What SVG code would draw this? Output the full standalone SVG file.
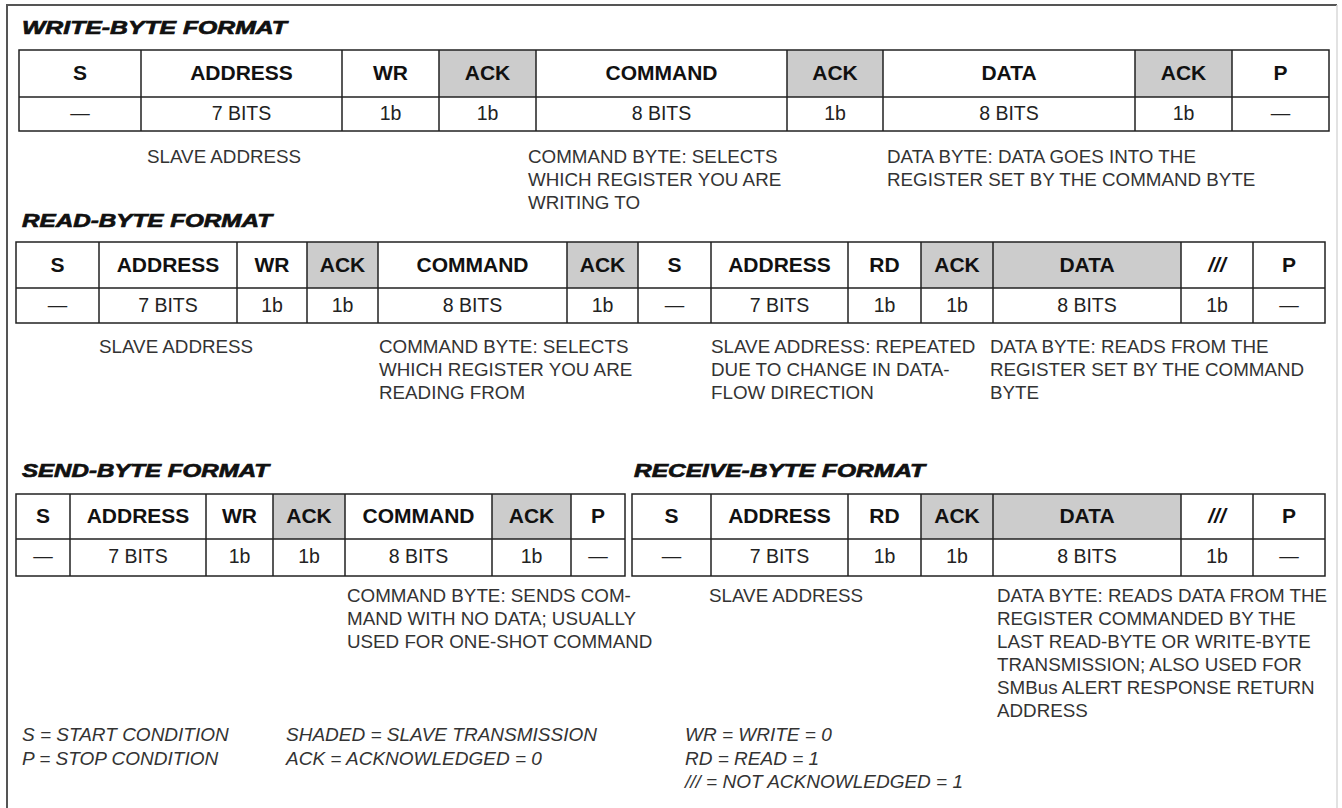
<svg xmlns="http://www.w3.org/2000/svg" width="1342" height="808" viewBox="0 0 1342 808">
<style>
text{font-family:"Liberation Sans",Arial,sans-serif;fill:#111}
.title{font-size:19px;font-weight:bold;font-style:italic;stroke:#111;stroke-width:0.7}
.hd{font-size:21px;font-weight:bold;text-anchor:middle}
.hdi{font-size:21px;font-weight:bold;font-style:italic;text-anchor:middle}
.dt{font-size:19.5px;text-anchor:middle;fill:#222}
.note{font-size:18.8px;fill:#333}
.leg{font-size:19px;font-style:italic;fill:#333}
.sh{fill:#cccccc}
.grid{fill:none;stroke:#222;stroke-width:1.5}
</style>
<rect x="0" y="0" width="1342" height="808" fill="#fff"/>
<g id="frame">
<line x1="7" y1="5" x2="1337" y2="5" stroke="#555" stroke-width="2"/>
<line x1="7" y1="4" x2="7" y2="808" stroke="#555" stroke-width="2"/>
<line x1="1337" y1="5" x2="1337" y2="808" stroke="#d8d8d8" stroke-width="1.5"/>
</g>

<g id="write-byte">
<text class="title" x="22" y="34" textLength="265" lengthAdjust="spacingAndGlyphs">WRITE-BYTE FORMAT</text>
<rect class="sh" x="439" y="50" width="97" height="47"/>
<rect class="sh" x="787" y="50" width="96" height="47"/>
<rect class="sh" x="1135" y="50" width="97" height="47"/>
<rect class="grid" x="19" y="50" width="1310" height="81"/>
<path class="grid" d="M19 97H1329M141 50V131M342 50V131M439 50V131M536 50V131M787 50V131M883 50V131M1135 50V131M1232 50V131"/>
<text class="hd" x="80" y="80">S</text>
<text class="hd" x="241.5" y="80">ADDRESS</text>
<text class="hd" x="390.5" y="80">WR</text>
<text class="hd" x="487.5" y="80">ACK</text>
<text class="hd" x="661.5" y="80">COMMAND</text>
<text class="hd" x="835" y="80">ACK</text>
<text class="hd" x="1009" y="80">DATA</text>
<text class="hd" x="1183.5" y="80">ACK</text>
<text class="hd" x="1280.5" y="80">P</text>
<text class="dt" x="80" y="120">—</text>
<text class="dt" x="241.5" y="120">7 BITS</text>
<text class="dt" x="390.5" y="120">1b</text>
<text class="dt" x="487.5" y="120">1b</text>
<text class="dt" x="661.5" y="120">8 BITS</text>
<text class="dt" x="835" y="120">1b</text>
<text class="dt" x="1009" y="120">8 BITS</text>
<text class="dt" x="1183.5" y="120">1b</text>
<text class="dt" x="1280.5" y="120">—</text>
<text class="note" x="147" y="163">SLAVE ADDRESS</text>
<text class="note" x="528" y="163">COMMAND BYTE: SELECTS</text>
<text class="note" x="528" y="186">WHICH REGISTER YOU ARE</text>
<text class="note" x="528" y="209">WRITING TO</text>
<text class="note" x="887" y="163">DATA BYTE: DATA GOES INTO THE</text>
<text class="note" x="887" y="186">REGISTER SET BY THE COMMAND BYTE</text>
</g>

<g id="read-byte">
<text class="title" x="22" y="227" textLength="250" lengthAdjust="spacingAndGlyphs">READ-BYTE FORMAT</text>
<rect class="sh" x="307" y="242" width="71" height="46"/>
<rect class="sh" x="567" y="242" width="71" height="46"/>
<rect class="sh" x="921" y="242" width="260" height="46"/>
<rect class="grid" x="16" y="242" width="1309" height="81"/>
<path class="grid" d="M16 288H1325M99 242V323M237 242V323M307 242V323M378 242V323M567 242V323M638 242V323M711 242V323M848 242V323M921 242V323M993 242V323M1181 242V323M1253 242V323"/>
<text class="hd" x="57.5" y="272">S</text>
<text class="hd" x="168" y="272">ADDRESS</text>
<text class="hd" x="272" y="272">WR</text>
<text class="hd" x="342.5" y="272">ACK</text>
<text class="hd" x="472.5" y="272">COMMAND</text>
<text class="hd" x="602.5" y="272">ACK</text>
<text class="hd" x="674.5" y="272">S</text>
<text class="hd" x="779.5" y="272">ADDRESS</text>
<text class="hd" x="884.5" y="272">RD</text>
<text class="hd" x="957" y="272">ACK</text>
<text class="hd" x="1087" y="272">DATA</text>
<text class="hdi" x="1217" y="272">///</text>
<text class="hd" x="1289" y="272">P</text>
<text class="dt" x="57.5" y="312">—</text>
<text class="dt" x="168" y="312">7 BITS</text>
<text class="dt" x="272" y="312">1b</text>
<text class="dt" x="342.5" y="312">1b</text>
<text class="dt" x="472.5" y="312">8 BITS</text>
<text class="dt" x="602.5" y="312">1b</text>
<text class="dt" x="674.5" y="312">—</text>
<text class="dt" x="779.5" y="312">7 BITS</text>
<text class="dt" x="884.5" y="312">1b</text>
<text class="dt" x="957" y="312">1b</text>
<text class="dt" x="1087" y="312">8 BITS</text>
<text class="dt" x="1217" y="312">1b</text>
<text class="dt" x="1289" y="312">—</text>
<text class="note" x="99" y="353">SLAVE ADDRESS</text>
<text class="note" x="379" y="353">COMMAND BYTE: SELECTS</text>
<text class="note" x="379" y="376">WHICH REGISTER YOU ARE</text>
<text class="note" x="379" y="399">READING FROM</text>
<text class="note" x="711" y="353">SLAVE ADDRESS: REPEATED</text>
<text class="note" x="711" y="376">DUE TO CHANGE IN DATA-</text>
<text class="note" x="711" y="399">FLOW DIRECTION</text>
<text class="note" x="990" y="353">DATA BYTE: READS FROM THE</text>
<text class="note" x="990" y="376">REGISTER SET BY THE COMMAND</text>
<text class="note" x="990" y="399">BYTE</text>
</g>

<g id="send-byte">
<text class="title" x="22" y="477" textLength="247" lengthAdjust="spacingAndGlyphs">SEND-BYTE FORMAT</text>
<rect class="sh" x="273" y="494" width="72" height="45"/>
<rect class="sh" x="492" y="494" width="79" height="45"/>
<rect class="grid" x="16" y="494" width="609" height="82"/>
<path class="grid" d="M16 539H625M70 494V576M206 494V576M273 494V576M345 494V576M492 494V576M571 494V576"/>
<text class="hd" x="43" y="523">S</text>
<text class="hd" x="138" y="523">ADDRESS</text>
<text class="hd" x="239.5" y="523">WR</text>
<text class="hd" x="309" y="523">ACK</text>
<text class="hd" x="418.5" y="523">COMMAND</text>
<text class="hd" x="531.5" y="523">ACK</text>
<text class="hd" x="598" y="523">P</text>
<text class="dt" x="43" y="563">—</text>
<text class="dt" x="138" y="563">7 BITS</text>
<text class="dt" x="239.5" y="563">1b</text>
<text class="dt" x="309" y="563">1b</text>
<text class="dt" x="418.5" y="563">8 BITS</text>
<text class="dt" x="531.5" y="563">1b</text>
<text class="dt" x="598" y="563">—</text>
<text class="note" x="347" y="602">COMMAND BYTE: SENDS COM-</text>
<text class="note" x="347" y="625">MAND WITH NO DATA; USUALLY</text>
<text class="note" x="347" y="648">USED FOR ONE-SHOT COMMAND</text>
</g>

<g id="receive-byte">
<text class="title" x="634" y="477" textLength="291" lengthAdjust="spacingAndGlyphs">RECEIVE-BYTE FORMAT</text>
<rect class="sh" x="921" y="494" width="260" height="45"/>
<rect class="grid" x="632" y="494" width="693" height="82"/>
<path class="grid" d="M632 539H1325M711 494V576M848 494V576M921 494V576M993 494V576M1181 494V576M1253 494V576"/>
<text class="hd" x="671.5" y="523">S</text>
<text class="hd" x="779.5" y="523">ADDRESS</text>
<text class="hd" x="884.5" y="523">RD</text>
<text class="hd" x="957" y="523">ACK</text>
<text class="hd" x="1087" y="523">DATA</text>
<text class="hdi" x="1217" y="523">///</text>
<text class="hd" x="1289" y="523">P</text>
<text class="dt" x="671.5" y="563">—</text>
<text class="dt" x="779.5" y="563">7 BITS</text>
<text class="dt" x="884.5" y="563">1b</text>
<text class="dt" x="957" y="563">1b</text>
<text class="dt" x="1087" y="563">8 BITS</text>
<text class="dt" x="1217" y="563">1b</text>
<text class="dt" x="1289" y="563">—</text>
<text class="note" x="709" y="602">SLAVE ADDRESS</text>
<text class="note" x="997" y="602">DATA BYTE: READS DATA FROM THE</text>
<text class="note" x="997" y="625">REGISTER COMMANDED BY THE</text>
<text class="note" x="997" y="648">LAST READ-BYTE OR WRITE-BYTE</text>
<text class="note" x="997" y="671">TRANSMISSION; ALSO USED FOR</text>
<text class="note" x="997" y="694">SMBus ALERT RESPONSE RETURN</text>
<text class="note" x="997" y="717">ADDRESS</text>
</g>

<g id="legend">
<text class="leg" x="22" y="741">S = START CONDITION</text>
<text class="leg" x="22" y="765">P = STOP CONDITION</text>
<text class="leg" x="286" y="741">SHADED = SLAVE TRANSMISSION</text>
<text class="leg" x="286" y="765">ACK = ACKNOWLEDGED = 0</text>
<text class="leg" x="685" y="741">WR = WRITE = 0</text>
<text class="leg" x="685" y="765">RD = READ = 1</text>
<text class="leg" x="685" y="788">/// = NOT ACKNOWLEDGED = 1</text>
</g>
</svg>
